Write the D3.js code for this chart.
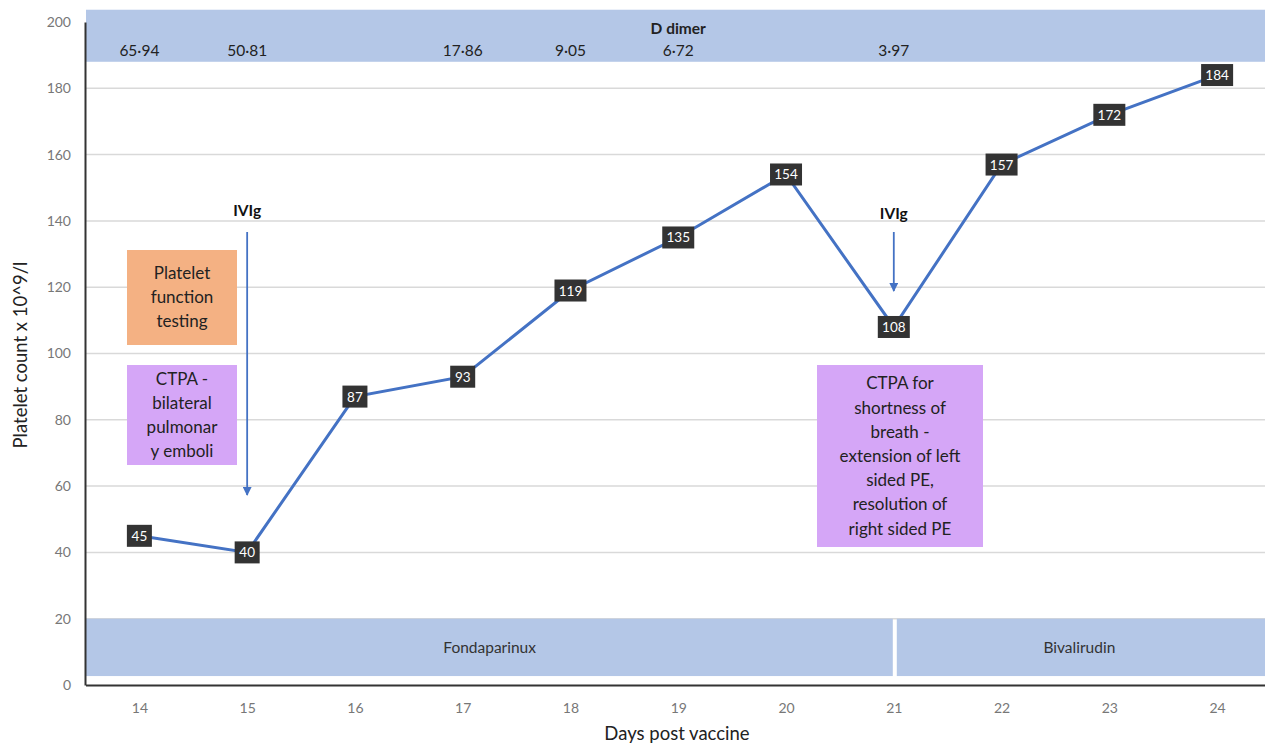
<!DOCTYPE html>
<html><head><meta charset="utf-8">
<script src="https://cdn.jsdelivr.net/npm/d3@7"></script>
<style>body{margin:0;background:#fff;} text{font-family:Lato,"Open Sans",sans-serif;}</style>
</head><body><svg id="c" width="1265" height="746"></svg>
<script>
const days = [14,15,16,17,18,19,20,21,22,23,24];
const platelets = [45,40,87,93,119,135,154,108,157,172,184];
const dDimerDays = [14,15,17,18,19,21];
const dDimerLabels = ["65·94","50·81","17·86","9·05","6·72","3·97"];
const yTicks = [0,20,40,60,80,100,120,140,160,180,200];
const treatments = [{name:"Fondaparinux", from:13.5, to:21},{name:"Bivalirudin", from:21, to:24.5}];
const ivigDays = [15,21];

const svg = d3.select("#c");
const x = d3.scaleLinear().domain([13.5,24.5]).range([85.5,1271]);
const y = d3.scaleLinear().domain([0,200]).range([685,22]);

// gridlines
svg.append("g").selectAll("line").data(yTicks.filter(d=>d>0)).join("line")
  .attr("x1",86).attr("x2",1265).attr("y1",d=>y(d)).attr("y2",d=>y(d))
  .attr("stroke","#d9d9d9").attr("stroke-width",1.5);

// top D-dimer band
svg.append("rect").attr("x",86).attr("y",y(203.7)).attr("width",1265-86).attr("height",y(188)-y(203.7)).attr("fill","#b4c7e7");
svg.append("text").attr("x",x(19)).attr("y",y(196.3)).attr("text-anchor","middle").attr("font-size",15.5).attr("font-weight","bold").attr("fill","#222").text("D dimer");
svg.append("g").selectAll("text").data(dDimerDays).join("text")
  .attr("x",d=>x(d)).attr("y",y(189.8)).attr("text-anchor","middle").attr("font-size",15.5).attr("fill","#222")
  .text((d,i)=>dDimerLabels[i]);

// bottom treatment bands
svg.append("g").selectAll("rect").data(treatments).join("rect")
  .attr("x",(d,i)=>i===0?86:x(d.from)+3).attr("width",(d,i)=>i===0?x(d.to)-1-86:1265-x(d.from)-3)
  .attr("y",y(20)).attr("height",y(2.7)-y(20)).attr("fill","#b4c7e7");
svg.append("g").selectAll("text").data(treatments).join("text")
  .attr("x",d=>(x(d.from)+Math.min(x(d.to),1265))/2).attr("y",y(11.3)+5).attr("text-anchor","middle").attr("font-size",15.5).attr("fill","#333")
  .text(d=>d.name);

// axes
const yAxis = d3.axisLeft(y).tickValues(yTicks).tickSize(0).tickPadding(14);
const gy = svg.append("g").attr("transform","translate(85,0)").call(yAxis);
gy.select(".domain").attr("stroke","#333").attr("stroke-width",2);
gy.selectAll("text").attr("font-size",14).attr("fill","#777").attr("font-family","Lato,sans-serif");
const xAxis = d3.axisBottom(x).tickValues(days).tickSize(0).tickPadding(18).tickFormat(d3.format("d"));
const gx = svg.append("g").attr("transform","translate(0,685)").call(xAxis);
gx.select(".domain").attr("stroke","#333").attr("stroke-width",2);
gx.selectAll("text").attr("font-size",14).attr("fill","#777").attr("font-family","Lato,sans-serif");

// annotation boxes
function box(x0,y0,w,h,fill,lines,fs,lh){
  svg.append("rect").attr("x",x0).attr("y",y0).attr("width",w).attr("height",h).attr("fill",fill);
  const t = svg.append("text").attr("text-anchor","middle").attr("font-size",fs).attr("fill","#222");
  const startY = y0 + h/2 - (lines.length-1)*lh/2 + fs*0.35;
  lines.forEach((l,i)=>t.append("tspan").attr("x",x0+w/2).attr("y",startY+i*lh).text(l));
}
box(127,250,110,95,"#f4b183",["Platelet","function","testing"],17,24);
box(127,365,110,100,"#d5a6f7",["CTPA -","bilateral","pulmonar","y emboli"],17,24);
box(817,365,166,182,"#d5a6f7",["CTPA for","shortness of","breath -","extension of left","sided PE,","resolution of","right sided PE"],17,24.2);

// IVIg arrows
svg.append("defs").append("marker").attr("id","ah").attr("viewBox","0 0 10 10").attr("refX",9).attr("refY",5)
  .attr("markerWidth",5).attr("markerHeight",5).attr("orient","auto")
  .append("path").attr("d","M0,0 L10,5 L0,10 z").attr("fill","#4472c4");
const arrowEnds = [495,291];
ivigDays.forEach((d,i)=>{
  svg.append("text").attr("x",x(d)).attr("y",i===0?216:219).attr("text-anchor","middle").attr("font-size",15.5).attr("font-weight","bold").attr("fill","#111").text("IVIg");
  svg.append("line").attr("x1",x(d)).attr("x2",x(d)).attr("y1",232).attr("y2",arrowEnds[i])
    .attr("stroke","#4472c4").attr("stroke-width",1.8).attr("marker-end","url(#ah)");
});

// line
const pts = days.map((d,i)=>[d,platelets[i]]);
svg.append("path").datum(pts).attr("fill","none").attr("stroke","#4472c4").attr("stroke-width",3)
  .attr("d",d3.line().x(d=>x(d[0])).y(d=>y(d[1])));

// data labels
const lg = svg.append("g").selectAll("g").data(pts).join("g")
  .attr("transform",d=>`translate(${x(d[0])},${y(d[1])})`);
lg.append("rect").attr("x",d=>d[1]>=100?-16:-12.5).attr("y",-11).attr("width",d=>d[1]>=100?32:25).attr("height",22).attr("fill","#333");
lg.append("text").attr("text-anchor","middle").attr("y",5).attr("font-size",13.5).attr("fill","#fff").text(d=>d[1]);

// axis titles
svg.append("text").attr("transform","translate(27,355) rotate(-90)").attr("text-anchor","middle").attr("font-size",18.5).attr("fill","#222").text("Platelet count x 10^9/l");
svg.append("text").attr("x",677).attr("y",740).attr("text-anchor","middle").attr("font-size",18.5).attr("fill","#222").text("Days post vaccine");
</script></body></html>
